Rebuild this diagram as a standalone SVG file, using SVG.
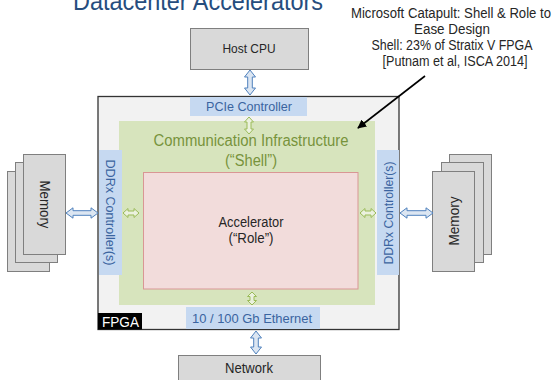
<svg xmlns="http://www.w3.org/2000/svg" width="556" height="380" viewBox="0 0 556 380">
<style>
text{font-family:"Liberation Sans",Arial,sans-serif}
.gray{fill:#D9D9D9;stroke:#7F7F7F;stroke-width:1}
.ctl{fill:#C6D9F1}
.ctlt{fill:#3A64A0;font-size:13.5px;text-anchor:middle}
.dark{fill:#262626;text-anchor:middle}
.barr{fill:#DCE6F2;stroke:#4F81BD;stroke-width:1}
.garr{fill:#EBF1DE;stroke:#9BBB59;stroke-width:1}
.green{fill:#77933C;font-size:16px;text-anchor:middle}
.note{fill:#262626;font-size:14px;text-anchor:middle}
</style>
<defs>
<marker id="ah" viewBox="0 0 10 10" refX="9" refY="5" markerWidth="9" markerHeight="9" markerUnits="userSpaceOnUse" orient="auto">
<path d="M0,0 L10,5 L0,10 Z" fill="#000"/>
</marker>
</defs>
<rect width="556" height="380" fill="#fff"/>
<g id="title">
<text x="73" y="10" font-size="26" fill="#264D7E" textLength="250" lengthAdjust="spacingAndGlyphs">Datacenter Accelerators</text>
</g>
<g id="note">
<text class="note" x="451" y="18" textLength="200" lengthAdjust="spacingAndGlyphs">Microsoft Catapult: Shell &amp; Role to</text>
<text class="note" x="452" y="34" textLength="76" lengthAdjust="spacingAndGlyphs">Ease Design</text>
<text class="note" x="452" y="50" textLength="161" lengthAdjust="spacingAndGlyphs">Shell: 23% of Stratix V FPGA</text>
<text class="note" x="455" y="66" textLength="145" lengthAdjust="spacingAndGlyphs">[Putnam et al, ISCA 2014]</text>
</g>
<g id="host-cpu">
<rect class="gray" x="190.5" y="28.5" width="118" height="41"/>
<text class="dark" x="249" y="53" font-size="13.5" textLength="53" lengthAdjust="spacingAndGlyphs">Host CPU</text>
</g>
<g id="fpga">
<rect x="98" y="96.5" width="301" height="233" fill="#F2F2F2" stroke="#333" stroke-width="1.3"/>
<rect x="98" y="313" width="44" height="16.5" fill="#000"/>
<text x="102" y="327" font-size="15" fill="#fff" textLength="37" lengthAdjust="spacingAndGlyphs">FPGA</text>
</g>
<g id="shell">
<rect x="119" y="121" width="256" height="184" fill="#D7E4BD"/>
<text class="green" x="251" y="146" textLength="195" lengthAdjust="spacingAndGlyphs">Communication Infrastructure</text>
<text class="green" x="251" y="166" textLength="52" lengthAdjust="spacingAndGlyphs">(“Shell”)</text>
</g>
<g id="role">
<rect x="143.5" y="172.5" width="214.5" height="116.5" fill="#F2DCDB" stroke="#D99694" stroke-width="1"/>
<text class="dark" x="251" y="227" font-size="14" textLength="65" lengthAdjust="spacingAndGlyphs">Accelerator</text>
<text class="dark" x="251" y="243" font-size="14" textLength="45" lengthAdjust="spacingAndGlyphs">(“Role”)</text>
</g>
<g id="pcie">
<rect class="ctl" x="190" y="97" width="117" height="19"/>
<text class="ctlt" x="249" y="111" textLength="86" lengthAdjust="spacingAndGlyphs">PCIe Controller</text>
</g>
<g id="ddr-left">
<rect class="ctl" x="99" y="150" width="23" height="125"/>
<text class="ctlt" transform="translate(110.5,212.5) rotate(90)" y="5" textLength="106" lengthAdjust="spacingAndGlyphs">DDRx Controller(s)</text>
</g>
<g id="ddr-right">
<rect class="ctl" x="377" y="150" width="22" height="125"/>
<text class="ctlt" transform="translate(388,213) rotate(-90)" y="5" textLength="103" lengthAdjust="spacingAndGlyphs">DDRx Controller(s)</text>
</g>
<g id="ethernet">
<rect class="ctl" x="186" y="307" width="134" height="22"/>
<text class="ctlt" x="252" y="322.5" font-size="14" textLength="120" lengthAdjust="spacingAndGlyphs">10 / 100 Gb Ethernet</text>
</g>
<g id="memory-left">
<rect class="gray" x="7.5" y="171.5" width="42" height="100"/>
<rect class="gray" x="15.5" y="162.5" width="42" height="100"/>
<rect class="gray" x="23.5" y="154.5" width="42" height="100"/>
<text class="dark" transform="translate(44.5,204.5) rotate(90)" y="5" font-size="14.5" textLength="48" lengthAdjust="spacingAndGlyphs">Memory</text>
</g>
<g id="memory-right">
<rect class="gray" x="449.5" y="154.5" width="42" height="100"/>
<rect class="gray" x="441.5" y="162.5" width="42" height="100"/>
<rect class="gray" x="432.5" y="171.5" width="42" height="100"/>
<text class="dark" transform="translate(453.5,221) rotate(-90)" y="5" font-size="14.5" textLength="49" lengthAdjust="spacingAndGlyphs">Memory</text>
</g>
<g id="network">
<rect class="gray" x="178.5" y="355.5" width="142" height="40"/>
<text class="dark" x="249" y="373" font-size="14" textLength="48" lengthAdjust="spacingAndGlyphs">Network</text>
</g>
<g id="connectors">
<path class="barr" d="M250,70 L255.5,77 L252.3,77 L252.3,88 L255.5,88 L250,95 L244.5,88 L247.7,88 L247.7,77 L244.5,77 Z"/>
<path class="barr" d="M256,331 L261.5,338 L258.3,338 L258.3,347 L261.5,347 L256,354 L250.5,347 L253.7,347 L253.7,338 L250.5,338 Z"/>
<path class="barr" d="M66,213 L73,207.8 L73,210.7 L91,210.7 L91,207.8 L98,213 L91,218.2 L91,215.3 L73,215.3 L73,218.2 Z"/>
<path class="barr" d="M400,213 L407,207.8 L407,210.7 L426,210.7 L426,207.8 L433,213 L426,218.2 L426,215.3 L407,215.3 L407,218.2 Z"/>
<path class="garr" d="M249,117 L253.5,122 L251,122 L251,129 L253.5,129 L249,134 L244.5,129 L247,129 L247,122 L244.5,122 Z"/>
<path class="garr" d="M252,292 L256.5,296.5 L254,296.5 L254,300.5 L256.5,300.5 L252,305 L247.5,300.5 L250,300.5 L250,296.5 L247.5,296.5 Z"/>
<path class="garr" d="M123,213 L128,208.5 L128,211 L134,211 L134,208.5 L139,213 L134,217.5 L134,215 L128,215 L128,217.5 Z"/>
<path class="garr" d="M360,213 L365,208.5 L365,211 L371,211 L371,208.5 L376,213 L371,217.5 L371,215 L365,215 L365,217.5 Z"/>
<line x1="425" y1="76" x2="358" y2="128" stroke="#000" stroke-width="1.6" marker-end="url(#ah)"/>
</g>
</svg>
